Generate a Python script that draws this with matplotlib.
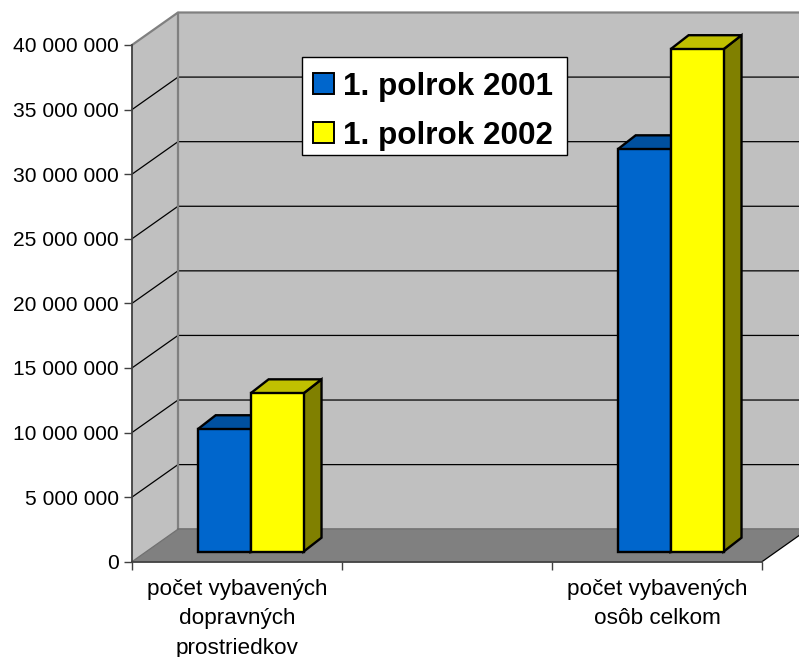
import numpy as np
import matplotlib
matplotlib.use("Agg")
import matplotlib.pyplot as plt
from matplotlib.patches import Polygon, Patch, Rectangle

categories = ["počet vybavených\ndopravných\nprostriedkov", "", "počet vybavených\nosôb celkom"]
series_2001 = [9480000, np.nan, 31150000]
series_2002 = [12260000, np.nan, 38900000]
labels = ["1. polrok 2001", "1. polrok 2002"]
y_ticks = list(range(0, 40000001, 5000000))

W, H = 799, 657
L, R, B, T = 132, 762, 561.7, 45
plt.rcParams['font.family'] = ['Liberation Sans', 'DejaVu Sans']
fig = plt.figure(figsize=(W / 100, H / 100), dpi=100)
ax = fig.add_axes([L / W, (H - B) / H, (R - L) / W, (B - T) / H])
ax.set_xlim(-0.5, 2.5)
ax.set_ylim(0, 40000000)
ax.patch.set_visible(False)

ux = 3.0 / (R - L)      # data units per pixel, x
uy = 40000000 / (B - T) # data units per pixel, y
DX, DY = 46 * ux, 32.5 * uy      # chart depth
SX, SY = 13.6 * ux, 10 * uy      # front of bars from front plane
BX, BY = 18 * ux, 14 * uy        # bar depth
BW = 0.252
x0, x1, y0, y1 = -0.5, 2.5, 0, 40000000
WALL, FLOOR, EDGE = "#C0C0C0", "#808080", "#808080"

def poly(pts, fc, ec="none", lw=0, z=1):
    ax.add_patch(Polygon(pts, closed=True, facecolor=fc, edgecolor=ec, linewidth=lw,
                         zorder=z, clip_on=False, joinstyle="miter"))

# walls and floor
poly([(x0 + DX, y0 + DY), (x1 + DX, y0 + DY), (x1 + DX, y1 + DY), (x0 + DX, y1 + DY)], WALL)
poly([(x0, y0), (x0 + DX, y0 + DY), (x0 + DX, y1 + DY), (x0, y1)], WALL)
poly([(x0, y0), (x1, y0), (x1 + DX, y0 + DY), (x0 + DX, y0 + DY)], FLOOR)

# gridlines on both walls
for v in y_ticks[1:-1]:
    ax.plot([x0, x0 + DX, x1 + DX], [v, v + DY, v + DY], color="black", lw=0.9, zorder=2,
            clip_on=False, solid_joinstyle="miter")
ax.plot([x1, x1 + DX], [0, DY], color="black", lw=0.9, zorder=2, clip_on=False)
# wall borders
ax.plot([x0, x0 + DX, x1 + DX], [y1, y1 + DY, y1 + DY], color=EDGE, lw=1.6, zorder=2, clip_on=False)
ax.plot([x0 + DX, x0 + DX], [y0 + DY, y1 + DY], color=EDGE, lw=1.6, zorder=2, clip_on=False)
ax.plot([x0 + DX, x1 + DX], [y0 + DY, y0 + DY], color="#707070", lw=1.2, zorder=2, clip_on=False)
ax.plot([x0, x0 + DX], [y0, y0 + DY], color="#707070", lw=0.9, zorder=2, clip_on=False)

def bar3d(xc, val, front, top, side, z):
    if np.isnan(val):
        return
    xl, xr = xc + SX, xc + SX + BW
    b, t = SY, SY + val
    kw = dict(ec="black", lw=1.7, z=z)
    poly([(xr, b), (xr + BX, b + BY), (xr + BX, t + BY), (xr, t)], side, **kw)
    poly([(xl, t), (xr, t), (xr + BX, t + BY), (xl + BX, t + BY)], top, **kw)
    poly([(xl, b), (xr, b), (xr, t), (xl, t)], front, **kw)

xs = np.arange(len(categories))
for i in xs:
    bar3d(i - BW, series_2001[i], "#0066CC", "#00509F", "#003A75", 3 + 2 * i)
    bar3d(i, series_2002[i], "#FFFF00", "#C0C000", "#808000", 4 + 2 * i)

# axes
for s in ("top", "right"):
    ax.spines[s].set_visible(False)
for s in ("left", "bottom"):
    ax.spines[s].set_color("#404040")
    ax.spines[s].set_linewidth(1.3)
    ax.spines[s].set_zorder(20)
ax.set_yticks(y_ticks)
ax.set_yticklabels([f"{v:,}".replace(",", " ") for v in y_ticks])
ax.tick_params(axis="y", length=5.8, width=1, color="#404040", labelsize=15.1, pad=3.5)
ax.set_xticks(xs)
ax.set_xticklabels(categories, fontsize=16.2, linespacing=1.52)
ax.set_xticks([-0.5, 0.5, 1.5, 2.5], minor=True)
ax.tick_params(axis="x", which="major", length=0, pad=12.5)
ax.tick_params(axis="x", which="minor", length=6, width=1, color="#404040")

# legend box and entries
ax.add_patch(Rectangle((302 / W, 1 - 155 / H), 265 / W, 98 / H, transform=fig.transFigure,
                       facecolor="white", edgecolor="black", linewidth=1.0,
                       zorder=29, clip_on=False))
handles = [Patch(facecolor="#0066CC", edgecolor="black", linewidth=1.4),
           Patch(facecolor="#FFFF00", edgecolor="black", linewidth=1.4)]
leg = ax.legend(handles, labels, loc="upper left", bbox_to_anchor=(302 / W, 1 - 61 / H),
                bbox_transform=fig.transFigure, frameon=False, borderaxespad=0,
                handlelength=0.68, handleheight=0.68, handletextpad=0.28,
                labelspacing=0.6, borderpad=0.34,
                prop={"weight": "bold", "size": 22.6})
leg.set_zorder(30)

fig.savefig("out.png", dpi=100)
